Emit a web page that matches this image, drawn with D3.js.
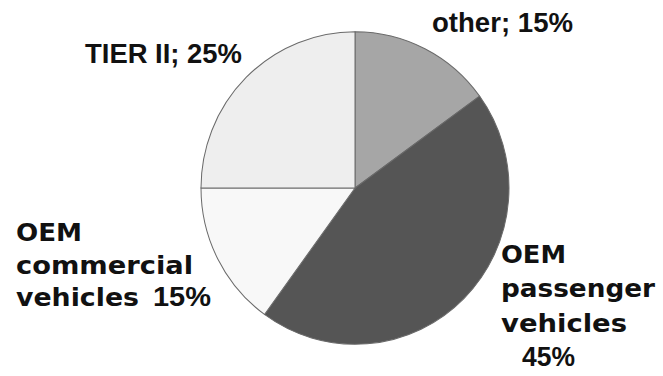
<!DOCTYPE html>
<html>
<head>
<meta charset="utf-8">
<script src="https://cdn.jsdelivr.net/npm/d3@7"></script>
<style>
  body { margin: 0; background: #fff; }
</style>
</head>
<body>
<div id="chart"></div>
<script>
const segments = ["other", "OEM passenger vehicles", "OEM commercial vehicles", "TIER II"];
const shares = [15, 45, 15, 25];
const fills = ["#a6a6a6", "#555555", "#f8f8f8", "#eeeeee"];

// label text per segment, as lines of [name part, percent part]
const labelLines = [
    [["", "other; 15%"]],
    [["OEM", ""], ["passenger", ""], ["vehicles", ""], ["", "45%"]],
    [["OEM", ""], ["commercial", ""], ["vehicles", "15%"]],
    [["", "TIER II; 25%"]]
];

const width = 663,
    height = 376,
    cx = 355,
    cy = 188,
    radius = 154;

const svg = d3.select("#chart")
    .append("svg")
    .attr("width", width)
    .attr("height", height)
    .attr("viewBox", [0, 0, width, height]);

const pie = d3.pie()
    .sort(null)
    .value(d => d);

const arc = d3.arc()
    .innerRadius(0)
    .outerRadius(radius);

const arcs = pie(shares);

// pie, a touch taller than wide like the original
const g = svg.append("g")
    .attr("transform", `translate(${cx},${cy}) scale(1,1.015)`);

g.selectAll("path")
    .data(arcs)
    .join("path")
    .attr("d", arc)
    .attr("fill", (d, i) => fills[i])
    .attr("stroke", "#6a6a6a")
    .attr("stroke-width", 1);

const nameFont = "DejaVu Sans, Verdana, sans-serif",
    pctFont = "Liberation Sans, Arial, sans-serif";

// label layout: first baseline, line gap, and per line [nameX, nameW, pctX, pctW]
const labelLayout = [
    { y: 32, gap: 0, lines: [[0, 0, 432, 141]] },
    { y: 263, gap: 34.3, lines: [[501, 65], [501, 154], [501, 126], [0, 0, 522, 53]] },
    { y: 241, gap: 32.5, lines: [[16, 66], [16, 177], [16, 123, 153, 58]] },
    { y: 63, gap: 0, lines: [[0, 0, 85, 157]] }
];

labelLines.forEach((lines, i) => {
    const L = labelLayout[i];
    const t = svg.append("g").attr("class", "label");
    lines.forEach((parts, j) => {
        const p = L.lines[j];
        const y = L.y + j * L.gap;
        if (parts[0]) {
            t.append("text")
                .attr("x", p[0])
                .attr("y", y)
                .attr("font-family", nameFont)
                .attr("font-size", 24)
                .attr("font-weight", "bold")
                .attr("fill", "#111")
                .attr("textLength", p[1])
                .attr("lengthAdjust", "spacingAndGlyphs")
                .text(parts[0]);
        }
        if (parts[1]) {
            t.append("text")
                .attr("x", p[2])
                .attr("y", y)
                .attr("font-family", pctFont)
                .attr("font-size", 27)
                .attr("font-weight", "bold")
                .attr("fill", "#111")
                .attr("textLength", p[3])
                .attr("lengthAdjust", "spacingAndGlyphs")
                .text(parts[1]);
        }
    });
});
</script>
</body>
</html>
